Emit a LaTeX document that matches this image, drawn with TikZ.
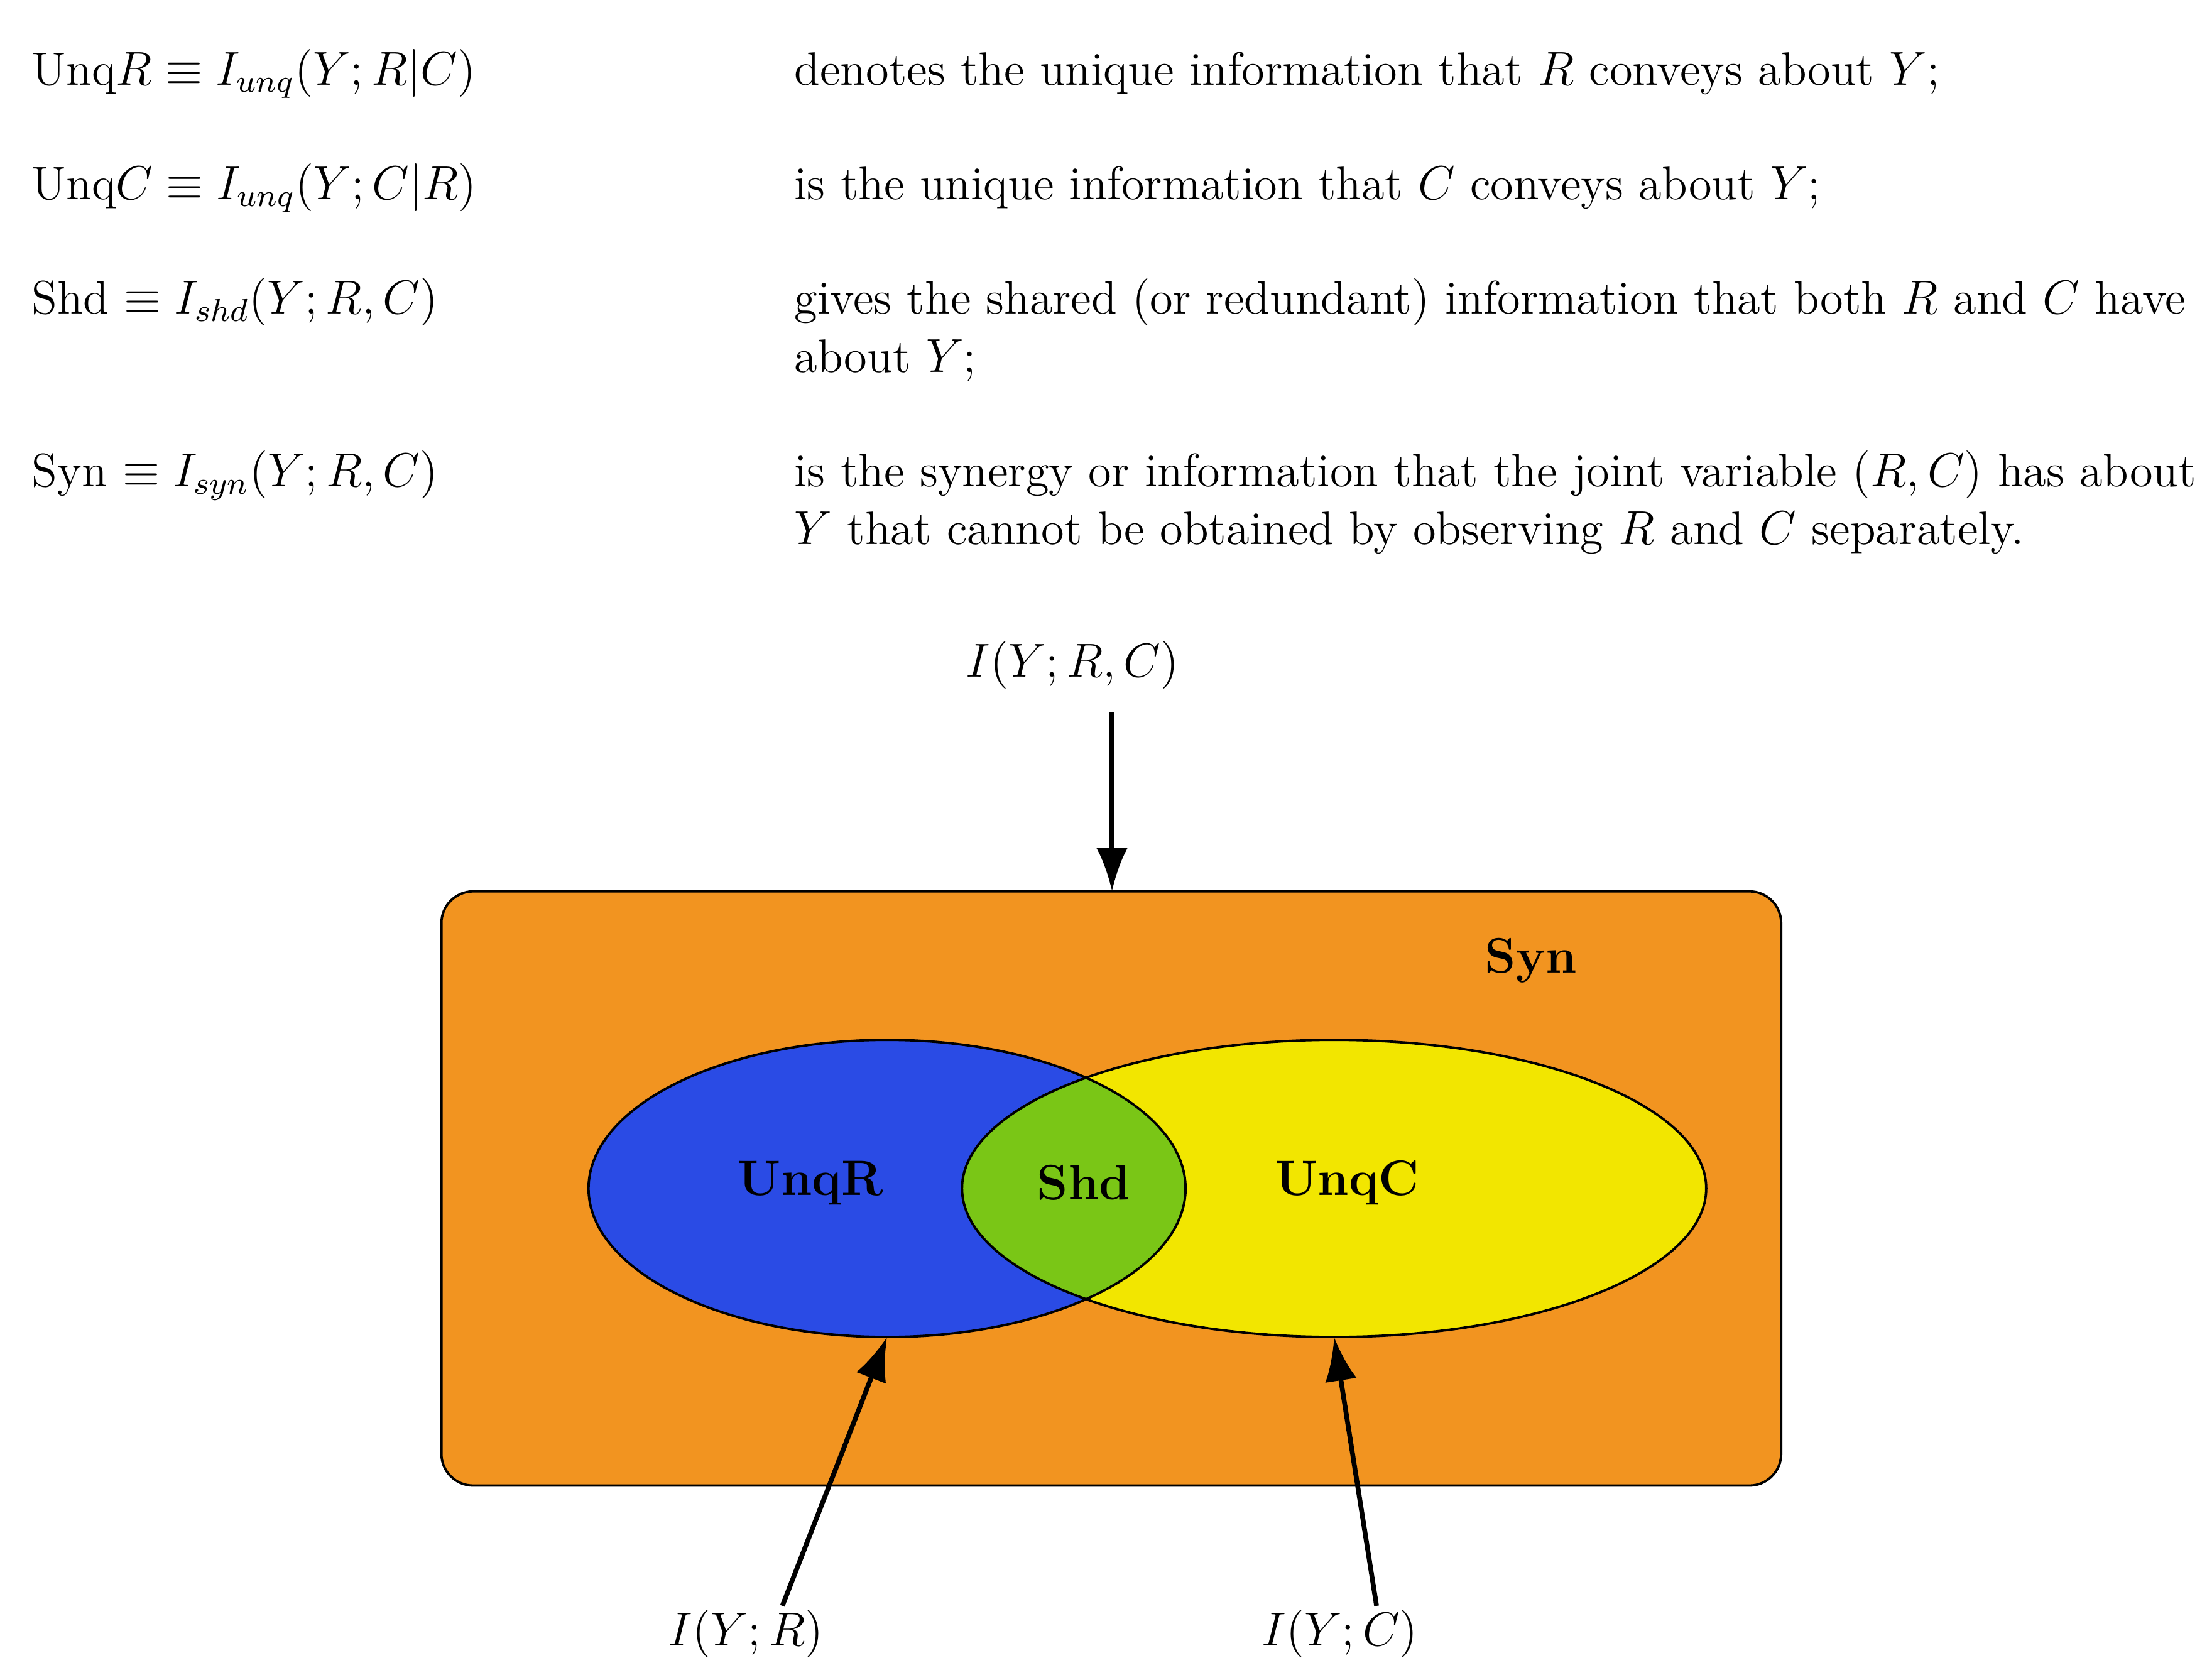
\documentclass[tikz,border=0pt]{standalone}
\usetikzlibrary{arrows.meta}
\definecolor{syn}{HTML}{F29420}
\definecolor{unqr}{HTML}{2A4BE5}
\definecolor{unqc}{HTML}{F2E600}
\definecolor{shd}{HTML}{7AC616}
\begin{document}
\begin{tikzpicture}[x=0.0125cm,y=-0.0125cm,
  txt/.style={anchor=base west,inner sep=0pt,font=\fontsize{11.8}{14}\selectfont},
  lab/.style={font=\fontsize{12.5}{15}\selectfont\bfseries,inner sep=0pt},
  mlab/.style={font=\fontsize{12.5}{15}\selectfont,inner sep=0pt},
  arr/.style={line width=1.2pt,-{Latex[length=11pt,width=8pt]}}]
\useasboundingbox (0,0) rectangle (1560,1187);
% definitions
\node[txt] (d1) at (22,60) {Unq$R \equiv I_{unq}(Y;R|C)$};
\node[txt] (e1) at (561,60) {denotes the unique information that $R$ conveys about $Y$;};
\node[txt] (d2) at (22,141) {Unq$C \equiv I_{unq}(Y;C|R)$};
\node[txt] (e2) at (561,141) {is the unique information that $C$ conveys about $Y$;};
\node[txt] (d3) at (22,222) {Shd $\equiv I_{shd}(Y;R,C)$};
\node[txt] (e3) at (561,222) {gives the shared (or redundant) information that both $R$ and $C$ have};
\node[txt] (e3b) at (561,263) {about $Y$;};
\node[txt] (d4) at (22,344) {Syn $\equiv I_{syn}(Y;R,C)$};
\node[txt] (e4) at (561,344) {is the synergy or information that the joint variable $(R,C)$ has about};
\node[txt] (e4b) at (561,385) {$Y$ that cannot be obtained by observing $R$ and $C$ separately.};
% diagram
\draw[fill=syn,rounded corners=8pt,line width=0.6pt] (312,630) rectangle (1259,1050);
\coordinate (boxtop) at (786,630);
\fill[unqr] (627,840) ellipse [x radius=211,y radius=105];
\fill[unqc] (943,840) ellipse [x radius=263,y radius=105];
\begin{scope}
\clip (627,840) ellipse [x radius=211,y radius=105];
\fill[shd] (943,840) ellipse [x radius=263,y radius=105];
\end{scope}
\draw[line width=0.6pt] (627,840) ellipse [x radius=211,y radius=105];
\draw[line width=0.6pt] (943,840) ellipse [x radius=263,y radius=105];
\coordinate (rbot) at (627,945);
\coordinate (cbot) at (943,945);
\node[lab] (syn) at (1082,679) {Syn};
\node[lab] (ur) at (573,836) {UnqR};
\node[lab] (sh) at (766,836) {Shd};
\node[lab] (uc) at (952,836) {UnqC};
\node[mlab] (top) at (758,470) {$I(Y;R,C)$};
\node[mlab] (iyr) at (527,1155) {$I(Y;R)$};
\node[mlab] (iyc) at (947,1155) {$I(Y;C)$};
\coordinate (topa) at (786,503);
\coordinate (ra) at (553,1135);
\coordinate (ca) at (973,1135);
\draw[arr] (topa) -- (boxtop);
\draw[arr] (ra) -- (rbot);
\draw[arr] (ca) -- (cbot);
\end{tikzpicture}
\end{document}
